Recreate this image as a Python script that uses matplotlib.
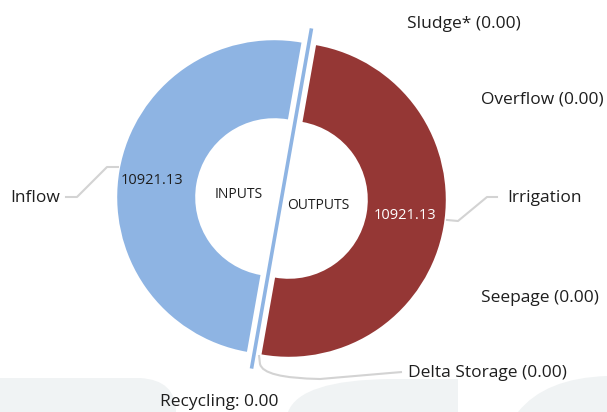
import matplotlib
matplotlib.use("Agg")
import matplotlib.pyplot as plt
from matplotlib.path import Path
from matplotlib.patches import PathPatch
import numpy as np

# ---------------- data ----------------
inputs_labels = ["Inflow", "Recycling"]
inputs_values = [10921.13, 0.00]
outputs_labels = ["Irrigation", "Sludge*", "Overflow", "Seepage", "Delta Storage"]
outputs_values = [10921.13, 0.00, 0.00, 0.00, 0.00]
half_labels = ["INPUTS", "OUTPUTS"]

# ---------------- style ----------------
W, H = 607, 412
BLUE = "#8EB4E3"
RED = "#953735"
TXT = "#1e1e1e"
LEAD = "#d3d3d3"
BG = "#f0f3f4"
plt.rcParams["font.family"] = ["Open Sans", "DejaVu Sans"]

fig = plt.figure(figsize=(W / 100, H / 100), dpi=100)
ax = fig.add_axes([0, 0, 1, 1])

def py(y):  # convert pixel row to data y
    return H - y

# background watermark shapes
def add_path(verts, codes):
    ax.add_patch(PathPatch(Path(verts, codes), facecolor=BG, edgecolor="none", zorder=0))

M, L, C3, CL = Path.MOVETO, Path.LINETO, Path.CURVE3, Path.CLOSEPOLY
add_path([(0, py(412)), (0, py(378)), (140, py(378)), (176, py(380)), (176, py(412)), (0, py(412))],
         [M, L, L, C3, L, CL])
add_path([(288, py(412)), (300, py(380)), (390, py(379)), (458, py(379)), (458, py(412)), (288, py(412))],
         [M, C3, L, L, L, CL])
add_path([(518, py(412)), (545, py(378)), (607, py(376)), (607, py(412)), (518, py(412))],
         [M, C3, L, L, CL])

# ---------------- donut ----------------
cx, cy = 281.5, py(198.5)
R, r = 157, 79
split = 80
expl = 7.4
totals = [sum(inputs_values), sum(outputs_values)]
ax.pie(totals, startangle=split, counterclock=True, center=(cx, cy), radius=R,
       explode=[expl, expl], colors=[BLUE, RED],
       wedgeprops=dict(width=R - r, edgecolor="none", zorder=2))

# separator line through the centre along the split direction
ang = np.deg2rad(split)
ext = 1.1 * R
ax.plot([cx - ext * np.cos(ang), cx + ext * np.cos(ang)],
        [cy - ext * np.sin(ang), cy + ext * np.sin(ang)],
        color=BLUE, lw=2.6, solid_capstyle="butt", zorder=3)

dy = 2  # text baseline correction
# values in wedges
ax.text(152, py(178 + dy), f"{inputs_values[0]:.2f}", fontsize=10.5, color=TXT, ha="center", va="center", zorder=5)
ax.text(405, py(213 + dy), f"{outputs_values[0]:.2f}", fontsize=10.5, color="white", ha="center", va="center", zorder=5)

# centre labels
ax.text(239, py(192 + dy), half_labels[0], fontsize=10, color=TXT, ha="center", va="center", zorder=5)
ax.text(318.5, py(203 + dy), half_labels[1], fontsize=10, color=TXT, ha="center", va="center", zorder=5)

# leader lines
ax.plot([66, 77, 107, 118], [py(197), py(197), py(167), py(167)], color=LEAD, lw=1.5, zorder=1, solid_joinstyle="round")
ax.plot([447, 458, 487, 497], [py(220), py(221), py(197), py(197)], color=LEAD, lw=1.5, zorder=4, solid_joinstyle="round")
ax.add_patch(PathPatch(Path([(259, py(355)), (260, py(364)), (263, py(378)), (320, py(379)),
                             (390, py(373)), (402, py(372))],
                            [M, L, C3, C3, L, L]),
                       facecolor="none", edgecolor=LEAD, lw=1.5, zorder=1))

# outer labels
fs = 12.5
ax.text(10, py(196 + dy), inputs_labels[0], fontsize=fs, color=TXT, ha="left", va="center")
ax.text(160, py(400 + dy), f"{inputs_labels[1]}: {inputs_values[1]:.2f}", fontsize=fs, color=TXT, ha="left", va="center")
ax.text(507, py(196 + dy), outputs_labels[0], fontsize=fs, color=TXT, ha="left", va="center")
ax.text(407, py(22 + dy), f"{outputs_labels[1]} ({outputs_values[1]:.2f})", fontsize=fs, color=TXT, ha="left", va="center")
ax.text(481, py(97 + dy), f"{outputs_labels[2]} ({outputs_values[2]:.2f})", fontsize=fs, color=TXT, ha="left", va="center")
ax.text(481, py(296 + dy), f"{outputs_labels[3]} ({outputs_values[3]:.2f})", fontsize=fs, color=TXT, ha="left", va="center")
ax.text(408, py(371 + dy), f"{outputs_labels[4]} ({outputs_values[4]:.2f})", fontsize=fs, color=TXT, ha="left", va="center")

ax.set_xlim(0, W)
ax.set_ylim(0, H)
ax.set_aspect("equal")
ax.axis("off")
fig.savefig("out.png", dpi=100, facecolor="white")
